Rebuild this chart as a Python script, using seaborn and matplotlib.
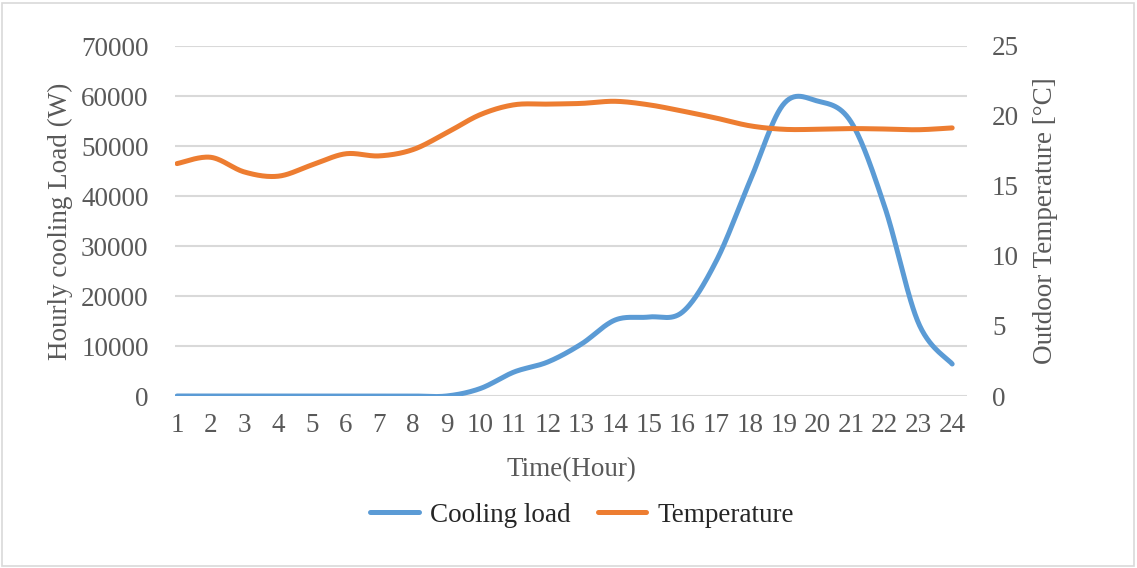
import numpy as np
import pandas as pd
import matplotlib
matplotlib.use("Agg")
import matplotlib.pyplot as plt
from matplotlib.patches import Rectangle
import seaborn as sns

# Hourly data
hours = list(range(1, 25))
cooling_load = [0, 0, 0, 0, 0, 0, 0, 0, 0, 1500, 4800, 6800, 10400, 15200,
                15800, 16800, 27000, 43000, 58400, 59000, 54800, 37800, 14600, 6400]
temperature = [16.6, 17.05, 16.0, 15.7, 16.5, 17.3, 17.15, 17.6, 18.8, 20.1,
               20.8, 20.85, 20.9, 21.05, 20.8, 20.35, 19.85, 19.3, 19.05, 19.05,
               19.1, 19.07, 19.02, 19.15]
left_ticks = [0, 10000, 20000, 30000, 40000, 50000, 60000, 70000]
right_ticks = [0, 5, 10, 15, 20, 25]

BLUE = "#5B9BD5"
ORANGE = "#ED7D31"
GRID = "#D9D9D9"
TEXT = "#595959"


def smooth(x, y, n=30):
    """Cardinal (Catmull-Rom) bezier smoothing, as used for smoothed line charts."""
    x = np.asarray(x, float)
    y = np.asarray(y, float)
    px = np.concatenate([[x[0]], x, [x[-1]]])
    py = np.concatenate([[y[0]], y, [y[-1]]])
    xs, ys = [], []
    t = np.linspace(0, 1, n, endpoint=False)
    for i in range(1, len(px) - 2):
        p0 = np.array([px[i], py[i]])
        p3 = np.array([px[i + 1], py[i + 1]])
        c1 = p0 + (np.array([px[i + 1], py[i + 1]]) - np.array([px[i - 1], py[i - 1]])) / 6
        c2 = p3 - (np.array([px[i + 2], py[i + 2]]) - np.array([px[i], py[i]])) / 6
        b = ((1 - t) ** 3)[:, None] * p0 + (3 * (1 - t) ** 2 * t)[:, None] * c1 \
            + (3 * (1 - t) * t ** 2)[:, None] * c2 + (t ** 3)[:, None] * p3
        xs.extend(b[:, 0])
        ys.extend(b[:, 1])
    xs.append(x[-1])
    ys.append(y[-1])
    return np.array(xs), np.array(ys)


sns.set_theme(style="white")
plt.rcParams["font.family"] = ["Liberation Serif", "DejaVu Serif"]

fig = plt.figure(figsize=(11.37, 5.68), dpi=100)
ax = fig.add_axes([175 / 1137, 1 - 396 / 568, (967 - 175) / 1137, 350 / 568])
ax2 = ax.twinx()

cx, cy = smooth(hours, cooling_load)
tx, ty = smooth(hours, temperature)
df_c = pd.DataFrame({"hour": cx, "value": cy})
df_t = pd.DataFrame({"hour": tx, "value": ty})

sns.lineplot(data=df_c, x="hour", y="value", ax=ax, color=BLUE, lw=3.6,
             sort=False, estimator=None, solid_capstyle="round", label="Cooling load",
             legend=False)
sns.lineplot(data=df_t, x="hour", y="value", ax=ax2, color=ORANGE, lw=3.6,
             sort=False, estimator=None, solid_capstyle="round", label="Temperature",
             legend=False)

ax.set_xlim(0.94, 24.44)
ax.set_ylim(0, 70000)
ax2.set_ylim(0, 25)
ax.set_yticks(left_ticks)
ax2.set_yticks(right_ticks)
ax.set_xticks(hours)
ax.set_xticklabels([str(h) for h in hours])

ax.yaxis.grid(True, color=GRID, lw=1.5)
ax.xaxis.grid(False)
ax2.grid(False)
for a in (ax, ax2):
    for s in a.spines.values():
        s.set_visible(False)
    a.tick_params(length=0, labelsize=19.5, colors=TEXT)
ax.tick_params(axis="y", pad=19)
ax.tick_params(axis="x", pad=12)
ax2.tick_params(axis="y", pad=18)

ax.set_xlabel("Time(Hour)", fontsize=19.5, color=TEXT, labelpad=14)
ax.set_ylabel("Hourly cooling Load (W)", fontsize=19.5, color=TEXT, labelpad=6)
ax2.set_ylabel("Outdoor Temperature [°C]", fontsize=19.5, color=TEXT, labelpad=10)

h1, l1 = ax.get_legend_handles_labels()
h2, l2 = ax2.get_legend_handles_labels()
leg = fig.legend(h1 + h2, l1 + l2, loc="center", bbox_to_anchor=(582 / 1137, 1 - 515 / 568),
                 ncol=2, frameon=False, fontsize=19.5, handlelength=1.8,
                 handletextpad=0.4, columnspacing=1.0)
for line in leg.get_lines():
    line.set_linewidth(3.6)
    line.set_solid_capstyle("round")

fig.patches.append(Rectangle((2 / 1137, 2 / 568), 1 - 5 / 1137, 1 - 5 / 568,
                             transform=fig.transFigure, fill=False,
                             edgecolor=GRID, lw=1.2))

fig.savefig("out.png", dpi=100, facecolor="white")
